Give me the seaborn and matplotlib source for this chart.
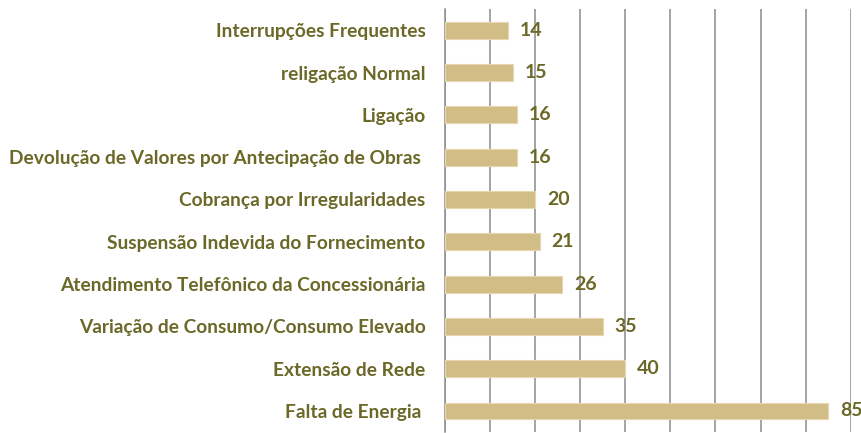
import matplotlib
matplotlib.use("Agg")
import matplotlib.pyplot as plt
import seaborn as sns
import pandas as pd
import numpy as np

# dados do gráfico (de cima para baixo)
categorias = [
    "Interrupções Frequentes",
    "religação Normal",
    "Ligação",
    "Devolução de Valores por Antecipação de Obras ",
    "Cobrança por Irregularidades",
    "Suspensão Indevida do Fornecimento",
    "Atendimento Telefônico da Concessionária",
    "Variação de Consumo/Consumo Elevado",
    "Extensão de Rede",
    "Falta de Energia ",
]
valores = [14, 15, 16, 16, 20, 21, 26, 35, 40, 85]

cor_barra = "#D3BD86"
cor_texto = "#6B6828"
cor_grade = "#8C8C8C"

df = pd.DataFrame({"categoria": categorias, "valor": valores})

sns.set_style("white")
plt.rcParams["font.family"] = ["Lato", "DejaVu Sans"]

fig = plt.figure(figsize=(8.61, 4.33), dpi=100)
ax = fig.add_axes([0.517, 0.002, 0.471, 0.977])

sns.barplot(data=df, x="valor", y="categoria", orient="h", color=cor_barra,
            width=0.4, edgecolor="#E6D7AE", linewidth=0.8, saturation=1, ax=ax, zorder=3)

ax.set_xlim(0, 90)
ax.set_xticks(np.arange(0, 91, 10))
ax.set_xticklabels([])
ax.tick_params(axis="x", length=0)
ax.grid(axis="x", color=cor_grade, linewidth=1.1, zorder=0)
ax.grid(axis="y", visible=False)
ax.set_axisbelow(True)

ax.set_ylim(len(categorias) - 0.5, -0.5)
ax.set_yticks(np.arange(len(categorias)))
ax.set_yticklabels(categorias, color=cor_texto, fontsize=13.8, fontweight="bold")
ax.tick_params(axis="y", which="major", length=0, pad=14)
ax.set_yticks(np.arange(-0.5, len(categorias)), minor=True)
ax.tick_params(axis="y", which="minor", length=5, width=1.1, color=cor_grade, direction="out")

for s in ["top", "right", "bottom"]:
    ax.spines[s].set_visible(False)
ax.spines["left"].set_color(cor_grade)
ax.spines["left"].set_linewidth(1.1)

ax.set_xlabel("")
ax.set_ylabel("")

for c in ax.containers:
    ax.bar_label(c, padding=8.5, color=cor_texto, fontsize=14, fontweight="bold")

fig.savefig("out.png", dpi=100)
